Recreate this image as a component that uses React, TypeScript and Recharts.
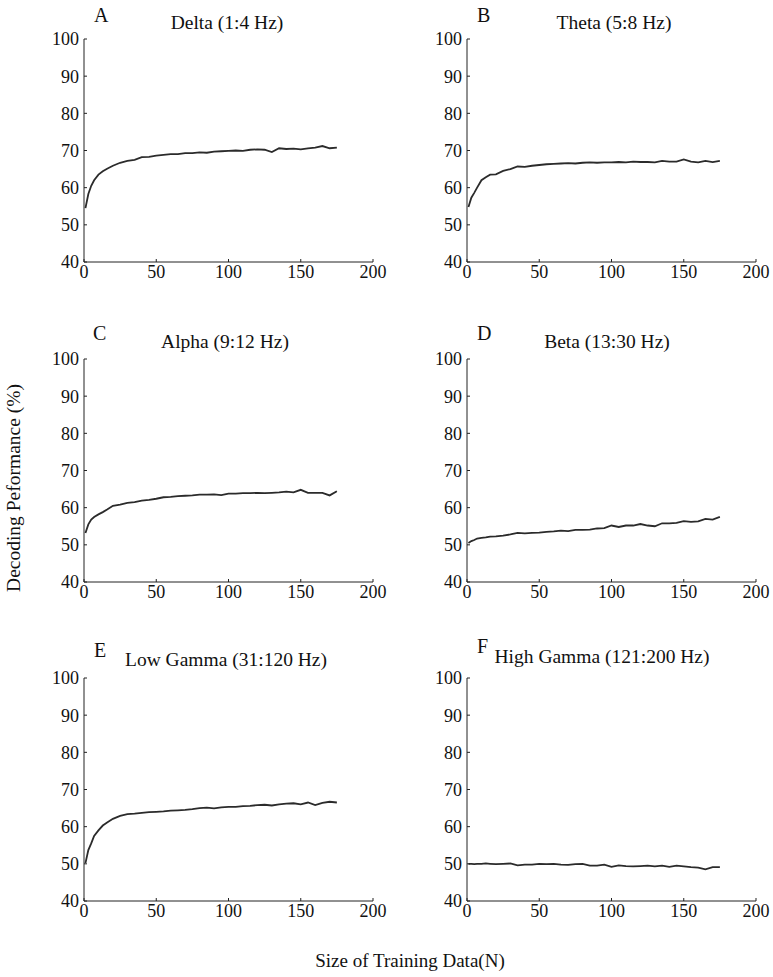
import { LineChart, Line, XAxis, YAxis } from "recharts"

const sizes = [1, 3, 5, 7, 10, 13, 16, 20, 25, 30, 35, 40, 45, 50, 55, 60, 65, 70, 75, 80, 85, 90, 95, 100, 105, 110, 115, 120, 125, 130, 135, 140, 145, 150, 155, 160, 165, 170, 175]

const delta = [54.5, 58.3, 60.5, 62, 63.5, 64.4, 65.1, 65.9, 66.7, 67.2, 67.5, 68.2, 68.3, 68.6, 68.8, 69, 69, 69.3, 69.3, 69.5, 69.4, 69.7, 69.8, 69.9, 70, 69.9, 70.2, 70.3, 70.2, 69.6, 70.6, 70.4, 70.5, 70.3, 70.6, 70.8, 71.2, 70.6, 70.8]
const theta = [54.8, 57.3, 58.6, 60, 62, 62.8, 63.5, 63.6, 64.5, 65, 65.7, 65.6, 65.9, 66.1, 66.3, 66.4, 66.5, 66.6, 66.5, 66.7, 66.8, 66.7, 66.8, 66.8, 66.9, 66.8, 67, 66.9, 66.9, 66.8, 67.2, 67, 67, 67.6, 67, 66.8, 67.2, 66.9, 67.2]
const alpha = [53.2, 55.5, 56.8, 57.5, 58.2, 58.8, 59.5, 60.5, 60.8, 61.3, 61.5, 61.9, 62.1, 62.4, 62.8, 62.9, 63.1, 63.2, 63.3, 63.5, 63.5, 63.6, 63.4, 63.8, 63.8, 63.9, 63.9, 64, 63.9, 64, 64.1, 64.3, 64.1, 64.8, 64, 64, 64, 63.3, 64.4]
const beta = [50.5, 51, 51.3, 51.7, 51.9, 52, 52.2, 52.3, 52.5, 52.8, 53.2, 53.1, 53.2, 53.3, 53.5, 53.6, 53.8, 53.7, 54, 54, 54.1, 54.4, 54.5, 55.2, 54.8, 55.2, 55.2, 55.6, 55.2, 55, 55.8, 55.8, 55.9, 56.4, 56.2, 56.3, 57, 56.8, 57.5]
const lowGamma = [50.2, 53.7, 55.5, 57.5, 59, 60.3, 61.1, 62.1, 62.9, 63.4, 63.5, 63.7, 63.9, 64, 64.1, 64.3, 64.4, 64.5, 64.7, 65, 65.1, 64.9, 65.2, 65.3, 65.3, 65.5, 65.6, 65.8, 65.9, 65.7, 66, 66.2, 66.3, 66, 66.5, 65.8, 66.4, 66.7, 66.5]
const highGamma = [50, 50, 49.9, 50, 50, 50.1, 50, 49.9, 50, 50.1, 49.6, 49.8, 49.8, 50, 49.9, 50, 49.8, 49.7, 49.9, 50, 49.5, 49.5, 49.8, 49.2, 49.6, 49.4, 49.3, 49.4, 49.5, 49.3, 49.5, 49.2, 49.5, 49.3, 49.1, 49, 48.5, 49.1, 49.1]

const xTicks = [0, 50, 100, 150, 200]
const yTicks = [40, 50, 60, 70, 80, 90, 100]

const FONT = "'Liberation Serif', 'Times New Roman', serif"
const PLOT_W = 289
const PLOT_H = 223
const Y_W = 60
const TOP = 10

// panel: letter, title, values, plot left/top, letter pos, title center/baseline
const panels = [
  { letter: "A", title: "Delta (1:4 Hz)", values: delta, left: 84, top: 39, lx: 94, ly: 22, tx: 227, ty: 29 },
  { letter: "B", title: "Theta (5:8 Hz)", values: theta, left: 467, top: 39, lx: 477, ly: 22, tx: 614, ty: 29 },
  { letter: "C", title: "Alpha (9:12 Hz)", values: alpha, left: 84, top: 359, lx: 93, ly: 340, tx: 225, ty: 348 },
  { letter: "D", title: "Beta (13:30 Hz)", values: beta, left: 467, top: 359, lx: 477, ly: 340, tx: 607, ty: 348 },
  { letter: "E", title: "Low Gamma (31:120 Hz)", values: lowGamma, left: 84, top: 678, lx: 94, ly: 657, tx: 226, ty: 666 },
  { letter: "F", title: "High Gamma (121:200 Hz)", values: highGamma, left: 467, top: 678, lx: 477, ly: 653, tx: 602, ty: 663 },
]

function Panel({ values, left, top }: { values: number[]; left: number; top: number }) {
  const data = sizes.map((n, i) => ({ n, v: values[i] }))
  const tick = { fill: "#111", fontSize: 18, fontFamily: FONT }
  return (
    <div style={{ position: "absolute", left: left - Y_W, top: top - TOP }}>
      <LineChart width={Y_W + PLOT_W + 20} height={TOP + PLOT_H + 40} data={data} margin={{ top: TOP, right: 20, bottom: 10, left: 0 }}>
        <XAxis type="number" dataKey="n" domain={[0, 200]} ticks={xTicks} interval={0} stroke="#222" tick={tick} tickSize={-3} tickMargin={6} height={30} />
        <YAxis type="number" domain={[40, 100]} ticks={yTicks} interval={0} stroke="#222" tick={tick} tickSize={-3} tickMargin={8} width={Y_W} />
        <Line type="linear" dataKey="v" stroke="#2b2b2b" strokeWidth={1.8} dot={false} isAnimationActive={false} />
      </LineChart>
    </div>
  )
}

export default function App() {
  return (
    <div style={{ position: "absolute", left: 0, top: 0, width: 773, height: 977, background: "#fff" }}>
      {panels.map((p) => (
        <Panel key={p.letter} values={p.values} left={p.left} top={p.top} />
      ))}
      <svg width={773} height={977} style={{ position: "absolute", left: 0, top: 0, pointerEvents: "none" }}>
        {panels.map((p) => (
          <g key={p.letter} fontFamily={FONT} fill="#111">
            <text x={p.lx} y={p.ly} fontSize={20}>{p.letter}</text>
            <text x={p.tx} y={p.ty} fontSize={19.5} textAnchor="middle">{p.title}</text>
          </g>
        ))}
        <text x={410} y={967} fontSize={19} fontFamily={FONT} fill="#111" textAnchor="middle">Size of Training Data(N)</text>
        <text x={20} y={488} fontSize={19.5} fontFamily={FONT} fill="#111" textAnchor="middle" transform="rotate(-90 20 488)">Decoding Peformance (%)</text>
      </svg>
    </div>
  )
}
